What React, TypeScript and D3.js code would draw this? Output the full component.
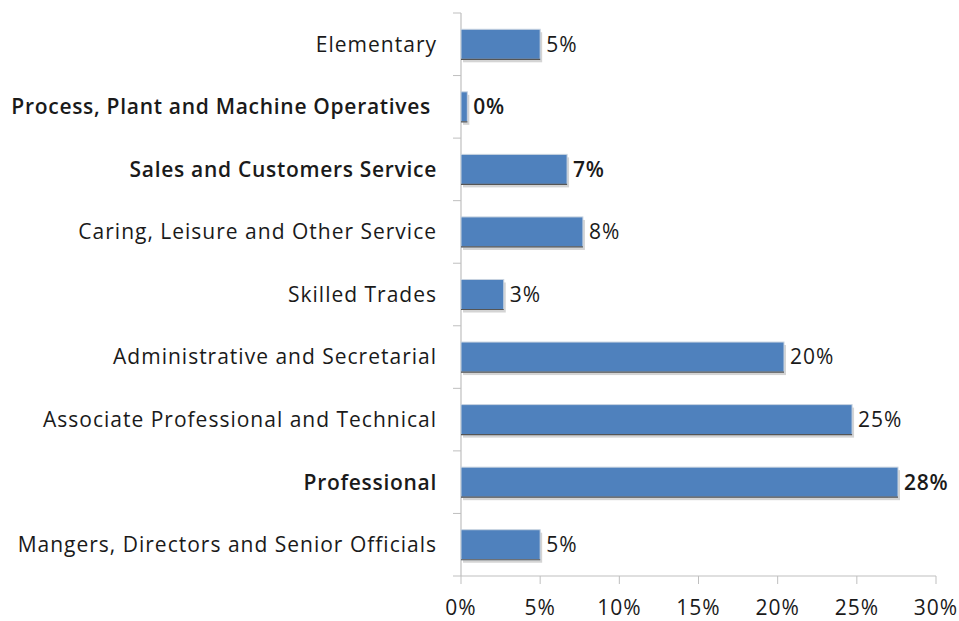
import React from "react";
import * as d3 from "d3";

const categories = [
  "Elementary",
  "Process, Plant and Machine Operatives",
  "Sales and Customers Service",
  "Caring, Leisure and Other Service",
  "Skilled Trades",
  "Administrative and Secretarial",
  "Associate Professional and Technical",
  "Professional",
  "Mangers, Directors and Senior Officials",
];
const values = [5.0, 0.4, 6.7, 7.7, 2.7, 20.4, 24.7, 27.6, 5.0];
const boldCats = ["Process, Plant and Machine Operatives", "Sales and Customers Service", "Professional"];
const xTicks = [0, 5, 10, 15, 20, 25, 30];

const W = 959, H = 621;
const M = { left: 461, right: 23, top: 13, bottom: 45 };
const FONT = "'Open Sans', 'Noto Sans', sans-serif";

export default function App() {
  const x = d3.scaleLinear().domain([0, 30]).range([M.left, W - M.right]);
  const y = d3.scaleBand().domain(categories).range([M.top, H - M.bottom]).paddingInner(0.52).paddingOuter(0.26);
  const bw = y.bandwidth();
  const bounds = d3.range(categories.length + 1).map((i) => M.top + i * ((H - M.bottom - M.top) / categories.length));
  const axisY = H - M.bottom;
  return (
    <svg width={W} height={H} style={{ position: "absolute", left: 0, top: 0, background: "#fff" }}>
      {/* y axis */}
      <line x1={x(0)} x2={x(0)} y1={M.top} y2={axisY} stroke="#bfbfbf" strokeWidth={1.2} />
      {bounds.map((b, i) => (
        <line key={"yt" + i} x1={x(0) - 8} x2={x(0)} y1={b} y2={b} stroke="#bfbfbf" strokeWidth={1} />
      ))}
      {/* x axis */}
      <line x1={x(0)} x2={x(30)} y1={axisY} y2={axisY} stroke="#bfbfbf" strokeWidth={1} />
      {xTicks.map((t) => (
        <g key={"xt" + t}>
          <line x1={x(t)} x2={x(t)} y1={axisY} y2={axisY + 8} stroke="#bfbfbf" />
          <text x={x(t)} y={axisY + 39} textAnchor="middle" fontFamily={FONT} fontSize={21} letterSpacing={1} fill="#1a1a1a">
            {t}%
          </text>
        </g>
      ))}
      {/* bars */}
      {categories.map((c, i) => {
        const yy = y(c)!;
        const w = x(values[i]) - x(0);
        const bold = boldCats.includes(c);
        const ls = bold ? 0.7 : 1.0;
        return (
          <g key={c}>
            <rect x={x(0) + 2} y={yy + 3} width={w} height={bw} fill="#d4d4d4" />
            <rect x={x(0)} y={yy} width={w} height={bw} fill="#4f81bd" stroke="#c8d3e0" strokeWidth={1} />
            <line x1={x(0)} x2={x(0) + w} y1={yy + bw} y2={yy + bw} stroke="#555" strokeWidth={1.2} />
            <text
              x={x(0) - (i === 1 ? 30 : 24)}
              y={yy + bw / 2}
              dy="0.35em"
              textAnchor="end"
              fontFamily={FONT}
              fontSize={21}
              letterSpacing={ls}
              fontWeight={bold ? 600 : 400}
              fill="#1a1a1a"
            >
              {c}
            </text>
            <text
              x={x(0) + w + 6}
              y={yy + bw / 2}
              dy="0.35em"
              fontFamily={FONT}
              fontSize={21}
              letterSpacing={ls}
              fontWeight={bold ? 600 : 400}
              fill="#1a1a1a"
            >
              {Math.round(values[i])}%
            </text>
          </g>
        );
      })}
    </svg>
  );
}
